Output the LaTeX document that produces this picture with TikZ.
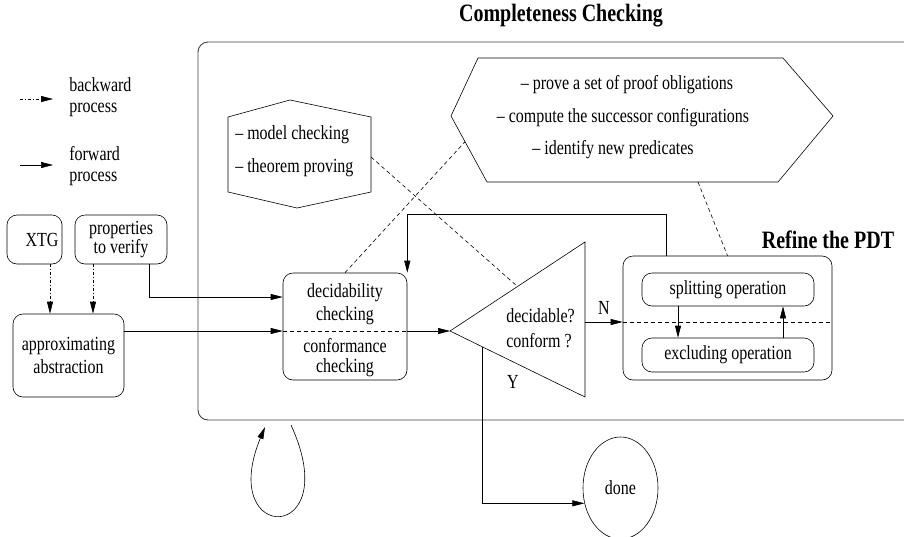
\documentclass[tikz,border=0pt]{standalone}
\usepackage{fontspec}
\setmainfont{Liberation Serif}[FakeStretch=0.8]
\usetikzlibrary{arrows.meta, shapes.geometric, calc}

\begin{document}
\begin{tikzpicture}[x=1pt, y=-1pt, font=\fontsize{20}{23}\selectfont, line width=0.6pt]
        \useasboundingbox (0,0) rectangle (904,536);
        \tikzstyle{BoxStyle} = [draw, rounded corners=10pt, inner sep=0pt, align=center]
        \tikzstyle{FwdStyle} = [-{Triangle[length=12pt, width=6pt]}]
        \tikzstyle{BackStyle} = [FwdStyle, dash pattern=on 3pt off 2pt on 1pt off 2pt]
        \tikzstyle{HintStyle} = [dash pattern=on 4pt off 3pt]
        \tikzstyle{TextStyle} = [inner sep=0pt, align=left]
        \tikzstyle{TitleStyle} = [inner sep=0pt, font=\fontsize{25}{25}\selectfont\bfseries]

        % legend
        \coordinate (bw1) at (20,99);
        \coordinate (bw2) at (53,99);
        \coordinate (fw1) at (20,165);
        \coordinate (fw2) at (53,165);
        \draw[BackStyle] (bw1) -- (bw2);
        \draw[FwdStyle] (fw1) -- (fw2);
        \node[TextStyle, anchor=west] (bwtxt) at (69,85) {backward};
        \node[TextStyle, anchor=west] (bwtxt2) at (69,110) {process};
        \node[TextStyle, anchor=west] (fwtxt) at (69,154) {forward};
        \node[TextStyle, anchor=west] (fwtxt2) at (69,179) {process};

        % completeness checking frame
        \node[TitleStyle] (title) at (561,16) {Completeness Checking};
        \draw[rounded corners=10pt, line width=0.9pt, black!75] (904,42) -- (198,42) -- (198,420) -- (904,420);

        % inputs
        \node[BoxStyle, minimum width=55pt, minimum height=49pt, text width=48pt, align=right] (xtg) at (34.5,239.5) {XTG};
        \node[BoxStyle, minimum width=92pt, minimum height=49pt, font=\fontsize{20}{16}\selectfont] (props) at (121,239.5) {properties\\to verify};
        \node[BoxStyle, minimum width=111pt, minimum height=83pt] (approx) at (68.5,355.5) {approximating\\abstraction};

        % checking
        \node[BoxStyle, minimum width=124pt, minimum height=107pt] (dec) at (345,326.5) {};
        \node[TextStyle, align=center] (dectop) at (345,304.5) {decidability\\checking};
        \node[TextStyle, align=center, font=\fontsize{20}{20}\selectfont] (decbot) at (345,358) {conformance\\checking};

        % decision
        \coordinate (triL) at (450,331);
        \coordinate (triT) at (585,242);
        \coordinate (triB) at (585,397);
        \draw (triL) -- (triT) -- (triB) -- cycle;
        \node[TextStyle, anchor=west, font=\fontsize{20}{25}\selectfont] (tritxt) at (506,328.5) {decidable?\\conform ?};
        \node[TextStyle] (nlab) at (604,308) {N};
        \node[TextStyle] (ylab) at (513,382) {Y};

        % refine the PDT
        \node[TitleStyle] (reftitle) at (828,240) {Refine the PDT};
        \node[BoxStyle, minimum width=209pt, minimum height=124pt] (refine) at (727.5,318) {};
        \node[BoxStyle, minimum width=172pt, minimum height=33pt] (split) at (728,289.5) {splitting operation};
        \node[BoxStyle, minimum width=172pt, minimum height=34pt] (excl) at (728,355) {excluding operation};

        \node[draw, ellipse, minimum width=75pt, minimum height=102pt, inner sep=0pt] (done) at (620.5,488) {done};

        % techniques
        \coordinate (mhR) at (371,157);
        \draw (290,100) -- (371,117) -- (371,192) -- (297,208) -- (228,192) -- (228,117) -- cycle;
        \node[TextStyle, anchor=west] (mc) at (235,135) {-- model checking};
        \node[TextStyle, anchor=west] (tp) at (235,168) {-- theorem proving};

        \coordinate (hxL) at (451,116);
        \coordinate (hxBL) at (487,182);
        \coordinate (hxBR) at (778,182);
        \draw (hxL) -- (478,58) -- (783,58) -- (833,116) -- (hxBR) -- (hxBL) -- cycle;
        \node[TextStyle] (ob1) at (627,85) {-- prove a set of proof obligations};
        \node[TextStyle] (ob2) at (623,118) {-- compute the successor configurations};
        \node[TextStyle] (ob3) at (613,150) {-- identify new predicates};
        \coordinate (hxA) at ($(hxL)!0.39!(hxBL)$);
        \coordinate (hxB) at ($(hxBL)!0.725!(hxBR)$);

        % connectors
        \coordinate (axis) at (0,331);
        \coordinate (nline) at (0,322);
        \coordinate (a1) at ([xshift=-18.5pt]approx.north);
        \coordinate (a2) at ([xshift=24.5pt]approx.north);
        \draw[BackStyle] (xtg.south -| a1) -- (a1);
        \draw[BackStyle] (props.south -| a2) -- (a2);
        \draw[FwdStyle] ([xshift=28pt]props.south) |- ([yshift=29.5pt]dec.west);
        \draw[FwdStyle] (approx.east |- axis) -- (dec.west |- axis);
        \draw[HintStyle] (dec.west |- axis) -- (dec.east |- axis);
        \draw[FwdStyle] (dec.east |- axis) -- (triL);
        \draw[FwdStyle] (triT |- nline) -- (refine.west |- nline);
        \draw[HintStyle] (refine.west |- nline) -- (refine.east |- nline);
        \draw[FwdStyle] ([xshift=-50pt]split.south) -- ([xshift=-50pt]excl.north);
        \draw[FwdStyle] ([xshift=55pt]excl.north) -- ([xshift=55pt]split.south);
        \draw[FwdStyle] ([xshift=-61pt]refine.north) |- ([yshift=58pt]dec.north east) -- (dec.north east);
        \coordinate (ty) at ($(triL)!0.237!(triB)$);
        \draw[FwdStyle] (ty) |- (done.203);
        \draw[HintStyle] (dec.north) -- (hxA);
        \draw[HintStyle] (mhR) -- ($(triL)!0.5!(triT)$);
        \draw[HintStyle] (hxB) -- (refine.north);

        % loop
        \coordinate (loopout) at (291,425);
        \coordinate (loopin) at (265,427);
        \draw[FwdStyle] (loopout) .. controls (346,545) and (216,545) .. (loopin);
    \end{tikzpicture}
\end{document}
